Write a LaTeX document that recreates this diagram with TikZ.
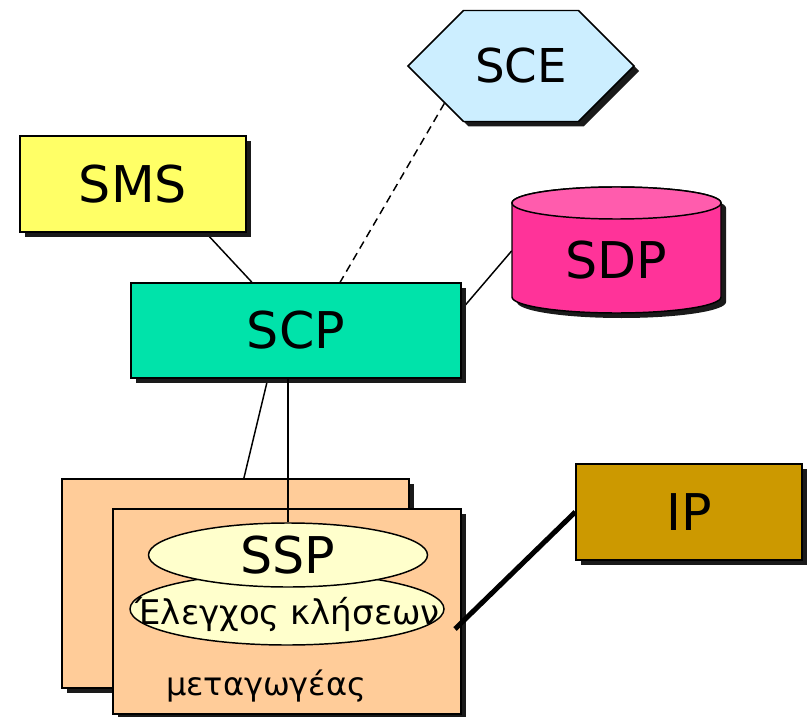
\documentclass[tikz,border=0pt]{standalone}
\usepackage{fontspec}
\setmainfont{DejaVu Sans}
\usetikzlibrary{shapes.geometric,shapes.symbols,shadows,calc,backgrounds}
\definecolor{shadowgray}{HTML}{1A1A1A}
\definecolor{scecol}{HTML}{CCEEFF}
\definecolor{smscol}{HTML}{FFFF66}
\definecolor{scpcol}{HTML}{00E3AA}
\definecolor{sdpcol}{HTML}{FF3399}
\definecolor{sdptop}{HTML}{FF5CAD}
\definecolor{ipcol}{HTML}{CC9900}
\definecolor{swcol}{HTML}{FFCC99}
\definecolor{sspcol}{HTML}{FFFFCC}
\begin{document}
\begin{tikzpicture}[x=0.75pt, y=-0.75pt,
    box/.style={draw, line width=1.1pt, general shadow={fill=shadowgray, shadow xshift=3.75pt, shadow yshift=-3.75pt}},
    big/.style={font=\fontsize{38}{40}\selectfont},
    oval/.style={ellipse, draw, line width=1.1pt, fill=sspcol, inner sep=0pt},
    link/.style={line width=1.1pt}]
  \useasboundingbox (0,0) rectangle (812,716);
  \node[box, signal, signal to=west and east, fill=scecol, minimum width=169.5pt, minimum height=83.25pt, font=\fontsize{35}{37}\selectfont] (SCE) at (521,66) {SCE};
  \node[box, big, fill=smscol, minimum width=169.5pt, minimum height=72pt] (SMS) at (133,184) {SMS};
  \node[box, big, fill=scpcol, minimum width=247.5pt, minimum height=71.25pt] (SCP) at (296,330.5) {SCP};
  \node[box, big, fill=ipcol, minimum width=169.5pt, minimum height=72pt] (IP) at (689,512) {IP};
  % SDP drum
  \path[fill=shadowgray] (517,208) -- (517,302) arc[start angle=180, end angle=0, x radius=104.5, y radius=16] -- (726,208) arc[start angle=0, end angle=-180, x radius=104.5, y radius=16] -- cycle;
  \draw[link, fill=sdpcol] (512,203) -- (512,297) arc[start angle=180, end angle=0, x radius=104.5, y radius=16] -- (721,203) arc[start angle=0, end angle=-180, x radius=104.5, y radius=16] -- cycle;
  \draw[link, fill=sdptop] (616.5,203) ellipse [x radius=104.5, y radius=16];
  \node[big, minimum width=156.75pt, minimum height=94.5pt] (SDP) at (616.5,260) {SDP};
  % switches
  \node[box, fill=swcol, minimum width=260.25pt, minimum height=156.75pt] (swback) at (235.5,583.5) {};
  \node[box, fill=swcol, minimum width=261pt, minimum height=153.75pt] (swfront) at (287,611.5) {};
  \node[oval, minimum width=235.5pt, minimum height=54pt, label={[font=\fontsize{25.5}{27}\selectfont, yshift=-4pt, xshift=0.5pt]center:Έλεγχος κλήσεων}] (ctrl) at (287,609) {};
  \node[oval, minimum width=209.25pt, minimum height=48pt, label={[font=\fontsize{38}{40}\selectfont]center:SSP}] (SSP) at (288,555) {};
  \node[font=\fontsize{24}{26}\selectfont] (swlabel) at (266,686) {μεταγωγέας};
  \coordinate (swend) at (455,629);
  \begin{scope}[on background layer]
    \draw[link] ($(SMS.south west)!0.82!(SMS.south east)$) -- ($(SCP.north west)!0.367!(SCP.north east)$);
    \draw[link, dash pattern=on 6pt off 4pt] (SCE.206) -- ($(SCP.north west)!0.633!(SCP.north east)$);
    \draw[link] (SDP.175) -- ($(SCP.north east)!0.28!(SCP.south east)$);
    \draw[link] ($(SCP.south west)!0.415!(SCP.south east)$) -- ($(swback.north west)!0.524!(swback.north east)$);
  \end{scope}
  \draw[link] (SCP.south -| SSP.north) -- (SSP.north);
  \draw[line width=3.75pt] (IP.west) -- (swend);
\end{tikzpicture}
\end{document}
